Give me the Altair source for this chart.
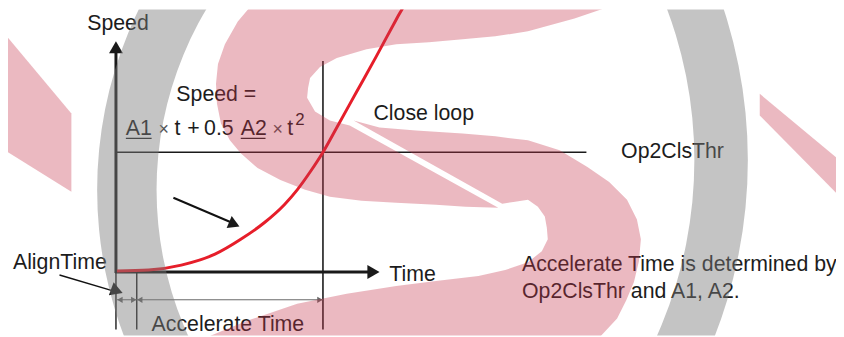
import math
import altair as alt
import pandas as pd

# ---------------- data (picture units: x to the right, y grows downward) ----------------
# red speed curve
curve_t = [118, 150, 183, 217, 243, 267, 287, 300, 313, 326, 340, 360, 380, 400, 410, 412]
curve_speed = [272, 271, 266, 255, 240, 223, 205, 190, 172, 152, 127, 91, 55, 18, 0, -4]

# straight segments: axes, threshold, time marks, dimension lines, pointers, underlines
seg_name = ["speed_axis", "time_axis", "op2clsthr", "close_time", "align_start", "align_end",
            "align_dim", "accel_dim", "curve_pointer", "align_pointer", "A1_underline", "A2_underline"]
seg_x1 = [117, 116, 117, 326, 117, 138, 118, 138, 175, 60, 127, 243]
seg_y1 = [274, 273, 152, 60, 273, 273, 301, 301, 198, 276, 138, 138]
seg_x2 = [117, 372, 592, 326, 117, 138, 138, 326, 236, 114, 153, 268]
seg_y2 = [50, 273, 152, 331, 331, 331, 301, 301, 224, 292, 138, 138]

# arrow heads
head_x = [117, 377, 236.5, 118, 121, 135, 141, 323]
head_y = [46, 273, 224.7, 292, 301, 301, 301, 301]
head_dir = ["triangle-up", "triangle-right", "triangle-right", "triangle-right",
            "triangle-left", "triangle-right", "triangle-left", "triangle-right"]
head_angle = [0, 0, 23, 20, 0, 0, 0, 0]

# labels
label_text = ["Speed", "Speed =", "A1", "\u00d7", "t", "+", "0.5", "A2", "\u00d7", "t", "2",
              "Close loop", "Op2ClsThr", "AlignTime", "Time", "Accelerate Time",
              "Accelerate Time is determined by", "Op2ClsThr and A1, A2."]
label_x = [88, 178, 127, 160, 176, 189, 206, 243, 275, 290, 298,
           377, 627, 13, 393, 153, 527, 527]
label_y = [29, 100, 135, 135, 135, 135, 135, 135, 135, 135, 125,
           119, 158, 270, 282, 333, 272, 299]
label_size = [21.5, 21.5, 21.5, 18, 21.5, 21.5, 21.5, 21.5, 18, 21.5, 17,
              21.5, 21.5, 21.5, 21.5, 21.5, 21.5, 21.5]

# background watermark: "S" in two pieces
s_upper_x = [262, 257, 240, 227, 220, 218, 219, 223, 232, 243, 260, 283, 308, 333, 365, 400, 440, 470, 503,
             353, 333, 318, 310, 311, 313, 323, 340, 370, 400, 433, 467, 500, 533, 580, 630, 645]
s_upper_y = [-20, 0, 20, 43, 63, 83, 103, 123, 140, 153, 168, 180, 190, 197, 201, 203, 205, 207, 208,
             125, 120, 111, 97, 87, 77, 66, 57, 48, 43, 41, 38, 35, 30, 17, 0, -20]
s_lower_x = [357, 383, 420, 467, 500, 533, 565, 593, 615, 633, 643, 647, 645, 640, 632, 623, 607, 600,
             205, 213, 250, 300, 350, 400, 440, 483, 510, 533, 547, 553, 552, 550, 543, 533, 520, 507]
s_lower_y = [120, 127, 130, 133, 136, 140, 150, 167, 182, 200, 220, 240, 262, 283, 302, 320, 337, 350,
             350, 337, 322, 305, 295, 287, 282, 277, 271, 263, 252, 240, 228, 217, 207, 200, 202, 204]
# watermark side strokes
wedge_x = [0, 72, 767, 844]
wedge_top = [27, 113, 93, 157]
wedge_bottom = [147, 192, 115, 193]
wedge_part = ["left", "left", "right", "right"]
# watermark brackets (centre, radii, angles)
ring_cx = [514, 266]
ring_cy = [190, 160]
ring_inner = [356, 435]
ring_outer = [416, 489]
ring_from = [math.pi, 0.0]
ring_to = [2 * math.pi, math.pi]

# ---------------- tables ----------------
curve = pd.DataFrame({"t": curve_t, "v": curve_speed})
segs = pd.DataFrame({"name": seg_name, "x": seg_x1, "y": seg_y1, "x2": seg_x2, "y2": seg_y2})
seg_style = {"speed_axis": (3, "#1a1a1a"), "time_axis": (3, "#1a1a1a"), "op2clsthr": (1.6, "#1a1a1a"),
             "close_time": (1.6, "#1a1a1a"), "align_start": (1.4, "#1a1a1a"), "align_end": (1.4, "#1a1a1a"),
             "align_dim": (1, "#666666"), "accel_dim": (1, "#666666"), "curve_pointer": (2, "#111111"),
             "align_pointer": (1.5, "#111111"), "A1_underline": (1.2, "#222222"), "A2_underline": (1.2, "#222222")}
segs["w"] = [seg_style[n][0] for n in seg_name]
segs["c"] = [seg_style[n][1] for n in seg_name]

heads = pd.DataFrame({"x": head_x, "y": head_y, "shape": head_dir, "angle": head_angle})
heads["size"] = [196, 200, 170, 200, 40, 40, 40, 40]
heads["c"] = ["#1a1a1a"] * 4 + ["#666666"] * 4

labels = pd.DataFrame({"text": label_text, "x": label_x, "y": label_y, "size": label_size})
labels["c"] = ["#555555" if t == "\u00d7" else "#1c1c1c" for t in label_text]

poly = pd.concat([
    pd.DataFrame({"x": s_upper_x, "y": s_upper_y, "i": range(len(s_upper_x)), "part": "upper"}),
    pd.DataFrame({"x": s_lower_x, "y": s_lower_y, "i": range(len(s_lower_x)), "part": "lower"}),
])
wedges = pd.DataFrame({"x": wedge_x, "top": wedge_top, "bot": wedge_bottom, "part": wedge_part})
rings = pd.DataFrame({"cx": ring_cx, "cy": ring_cy, "r_in": ring_inner, "r_out": ring_outer,
                      "t1": ring_from, "t2": ring_to})

# ---------------- scales ----------------
xs = alt.Scale(domain=[8, 844], nice=False, zero=False)
ys = alt.Scale(domain=[8, 337], nice=False, zero=False, reverse=True)


def X(f):
    return alt.X(f, type="quantitative", scale=xs, axis=None)


def Y(f):
    return alt.Y(f, type="quantitative", scale=ys, axis=None, stack=False)


FONT = "Liberation Sans"
PINK = "#c6374e"
GRAY = "#7c7c7c"

rules = alt.Chart(segs).mark_rule(clip=True).encode(
    x=X("x"), y=Y("y"), x2=alt.X2("x2"), y2=alt.Y2("y2"),
    strokeWidth=alt.StrokeWidth("w:Q", scale=None),
    color=alt.Color("c:N", scale=None),
)

curve_layer = alt.Chart(curve).mark_line(color="#e61e2a", strokeWidth=3, interpolate="monotone", clip=True).encode(
    x=X("t"), y=Y("v"), order=alt.Order("t:Q")
)

head_layer = alt.Chart(heads).mark_point(filled=True, opacity=1, clip=True).encode(
    x=X("x"), y=Y("y"),
    shape=alt.Shape("shape:N", scale=None),
    angle=alt.Angle("angle:Q", scale=None),
    size=alt.Size("size:Q", scale=None),
    color=alt.Color("c:N", scale=None),
)

text_layer = alt.Chart(labels).mark_text(font=FONT, align="left", baseline="alphabetic", clip=True).encode(
    x=X("x"), y=Y("y"), text="text:N", size=alt.Size("size:Q", scale=None),
    color=alt.Color("c:N", scale=None),
)

s_layer = alt.Chart(poly).mark_line(fill=PINK, fillOpacity=0.35, stroke=PINK, strokeOpacity=0,
                                    strokeWidth=0, interpolate="linear-closed", clip=True).encode(
    x=X("x"), y=Y("y"), order=alt.Order("i:Q"), detail="part:N"
)

wedge_layer = alt.Chart(wedges).mark_area(color=PINK, opacity=0.35, clip=True).encode(
    x=X("x"), y=Y("top"), y2=alt.Y2("bot"), detail="part:N"
)

ring_layer = alt.Chart(rings).mark_arc(color=GRAY, opacity=0.45, clip=True).encode(
    x=X("cx"), y=Y("cy"),
    theta=alt.Theta("t1:Q", scale=None, stack=False), theta2=alt.Theta2("t2"),
    radius=alt.Radius("r_out:Q", scale=None), radius2=alt.Radius2("r_in"),
)

chart = alt.layer(rules, curve_layer, head_layer, text_layer, s_layer, wedge_layer, ring_layer).properties(
    width=836, height=329, autosize=alt.AutoSizeParams(type="none"), padding=0,
    background="white",
).configure_view(strokeWidth=0)

chart.save("out.html", embed_options={"renderer": "svg", "actions": False})
